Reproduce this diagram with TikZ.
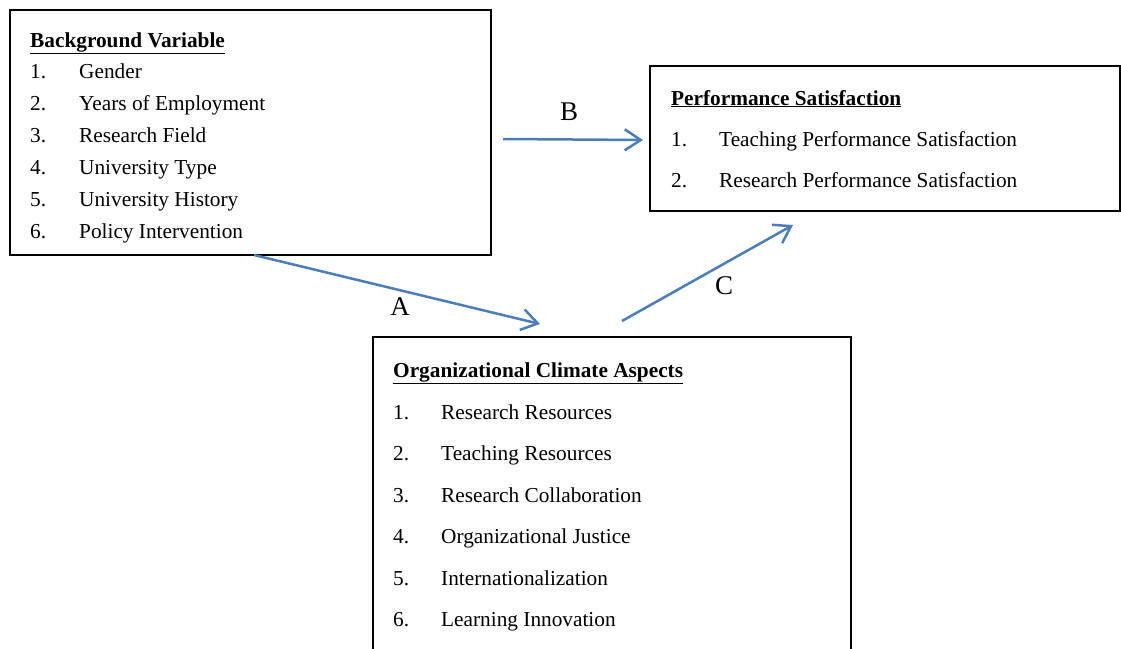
\documentclass[tikz,border=0pt]{standalone}
\usepackage{fontspec}
\setmainfont{Liberation Serif}
\usetikzlibrary{arrows.meta}
\definecolor{arrowblue}{HTML}{4A7EBB}
\tikzset{
  boxframe/.style={draw=black, line width=1.8pt, fill=none},
  itemtext/.style={inner sep=0pt, anchor=base west, font=\fontsize{21.3}{25}\selectfont},
  headtext/.style={inner sep=0pt, anchor=base west, font=\fontsize{21.3}{25}\selectfont\bfseries},
  pathlabel/.style={inner sep=0pt, font=\fontsize{27}{30}\selectfont},
  link/.style={draw=arrowblue, line width=2.5pt, -{Straight Barb[length=16pt,width=21pt,line width=2.5pt]}},
}
\begin{document}
\begin{tikzpicture}[x=1pt,y=-1pt]
\useasboundingbox (0,0) rectangle (1121,648);
\clip (0,0) rectangle (1121,648);
% boxes
\draw[boxframe] (10,10) rectangle (491,255);
\node[inner sep=0pt, minimum width=481pt, minimum height=245pt, anchor=north west] (bg) at (10,10) {};
\draw[boxframe] (650,66) rectangle (1120,211);
\node[inner sep=0pt, minimum width=470pt, minimum height=145pt, anchor=north west] (ps) at (650,66) {};
\draw[boxframe] (373,337) rectangle (851,670);
\node[inner sep=0pt, minimum width=478pt, minimum height=311pt, anchor=north west] (oc) at (373,337) {};
% Background Variable
\node[headtext] (bgh) at (30,47) {\underline{Background Variable}};
\node[itemtext] (bg1n) at (30,78) {1.};  \node[itemtext] (bg1) at (79,78) {Gender};
\node[itemtext] (bg2n) at (30,110) {2.}; \node[itemtext] (bg2) at (79,110) {Years of Employment};
\node[itemtext] (bg3n) at (30,142) {3.}; \node[itemtext] (bg3) at (79,142) {Research Field};
\node[itemtext] (bg4n) at (30,174) {4.}; \node[itemtext] (bg4) at (79,174) {University Type};
\node[itemtext] (bg5n) at (30,206) {5.}; \node[itemtext] (bg5) at (79,206) {University History};
\node[itemtext] (bg6n) at (30,238) {6.}; \node[itemtext] (bg6) at (79,238) {Policy Intervention};
% Performance Satisfaction
\node[headtext] (psh) at (671,105) {\underline{Performance Satisfaction}};
\node[itemtext] (ps1n) at (671,146) {1.}; \node[itemtext] (ps1) at (719,146) {Teaching Performance Satisfaction};
\node[itemtext] (ps2n) at (671,187) {2.}; \node[itemtext] (ps2) at (719,187) {Research Performance Satisfaction};
% Organizational Climate Aspects
\node[headtext] (och) at (393,377) {\underline{Organizational Climate Aspects}};
\node[itemtext] (oc1n) at (393,419) {1.}; \node[itemtext] (oc1) at (441,419) {Research Resources};
\node[itemtext] (oc2n) at (393,460) {2.}; \node[itemtext] (oc2) at (441,460) {Teaching Resources};
\node[itemtext] (oc3n) at (393,502) {3.}; \node[itemtext] (oc3) at (441,502) {Research Collaboration};
\node[itemtext] (oc4n) at (393,543) {4.}; \node[itemtext] (oc4) at (441,543) {Organizational Justice};
\node[itemtext] (oc5n) at (393,585) {5.}; \node[itemtext] (oc5) at (441,585) {Internationalization};
\node[itemtext] (oc6n) at (393,626) {6.}; \node[itemtext] (oc6) at (441,626) {Learning Innovation};
% connector end points
\coordinate (bStart) at (503,139);
\coordinate (bEnd) at (643,140);
\coordinate (aStart) at (254,255);
\coordinate (aEnd) at (540,324);
\coordinate (cStart) at (622,321);
\coordinate (cEnd) at (793,225);
\draw[link] (bStart) -- (bEnd);
\draw[link] (aStart) -- (aEnd);
\draw[link] (cStart) -- (cEnd);
% labels
\node[pathlabel] (lb) at (569,112) {B};
\node[pathlabel] (la) at (400,307) {A};
\node[pathlabel] (lc) at (724,286) {C};
\end{tikzpicture}
\end{document}
